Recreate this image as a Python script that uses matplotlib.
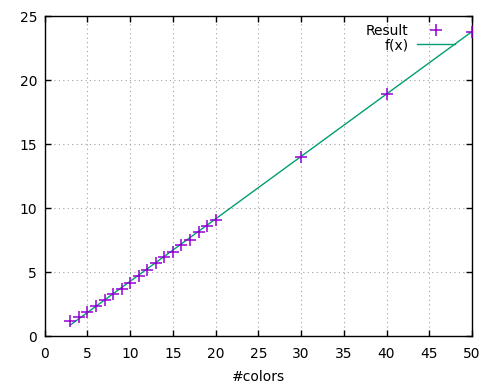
import matplotlib
matplotlib.use("Agg")
import matplotlib.pyplot as plt
import numpy as np

# Data
colors_x = [3, 4, 5, 6, 7, 8, 9, 10, 11, 12, 13, 14, 15, 16, 17, 18, 19, 20, 30, 40, 50]
result_y = [1.17, 1.5, 1.92, 2.37, 2.81, 3.28, 3.72, 4.2, 4.7, 5.18, 5.7, 6.17,
            6.61, 7.13, 7.55, 8.17, 8.64, 9.09, 14.0, 18.9, 23.8]
# fitted function f(x) = a*x + b (parameters)
fit_a = 0.4877
fit_b = -0.58
fit_x = [3, 50]

x_ticks = [0, 5, 10, 15, 20, 25, 30, 35, 40, 45, 50]
y_ticks = [0, 5, 10, 15, 20, 25]

plt.rcParams['font.family'] = ['DejaVu Sans']
fig = plt.figure(figsize=(4.96, 3.87), dpi=100)
ax = fig.add_axes([0.0901, 0.131, 0.9516 - 0.0901, 0.9579 - 0.131])

fx = np.array(fit_x, dtype=float)
ax.plot(colors_x, result_y, linestyle='none', marker='+', markersize=9,
        markeredgewidth=1.1, color='#9400D3', label='Result', zorder=3)
ax.plot(fx, fit_a * fx + fit_b, color='#009E73', linewidth=1.0, label='f(x)', zorder=2)

ax.set_xlim(0, 50)
ax.set_ylim(0, 25)
ax.set_xticks(x_ticks)
ax.set_yticks(y_ticks)
ax.tick_params(direction='in', length=4.5, width=1, top=True, right=True,
               labelsize=10, colors='black')
ax.tick_params(axis='x', pad=7.5)
ax.tick_params(axis='y', pad=5.5)
for s in ax.spines.values():
    s.set_linewidth(1)
ax.grid(True, linestyle=(0, (1, 3)), color='#a0a0a0', linewidth=0.8)
ax.set_axisbelow(True)
ax.set_xlabel('#colors', fontsize=10, labelpad=7)

leg = ax.legend(loc='upper right', markerfirst=False, frameon=False, fontsize=10,
                handlelength=2.7, handletextpad=0.65, labelspacing=0.05,
                borderaxespad=0.0, borderpad=0.0, bbox_to_anchor=(0.96, 0.977),
                bbox_transform=ax.transAxes)

fig.savefig('out.png', dpi=100)
